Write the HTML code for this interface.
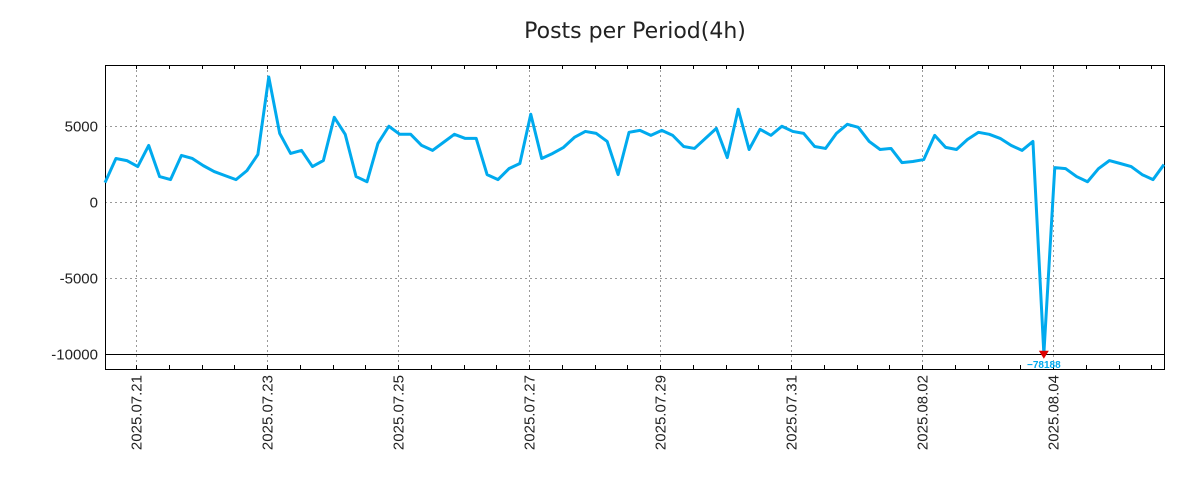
<!DOCTYPE html>
<html><head><meta charset="utf-8"><style>
body{margin:0;background:#fff;font-family:"Liberation Sans",sans-serif;}
svg{display:block}
</style></head><body>
<svg id="chart" width="1200" height="500" xmlns="http://www.w3.org/2000/svg">
<text x="635" y="38" text-anchor="middle" font-size="22" fill="#222" font-family="DejaVu Sans, Liberation Sans, sans-serif">Posts per Period(4h)</text>
<g id="grid"></g><g id="axes"></g><g id="series"></g>
</svg>
<script>
const values=[1260,2850,2710,2320,3710,1660,1460,3050,2850,2380,1990,1720,1460,2050,3110,8210,4500,3180,3380,2320,2710,5560,4440,1660,1320,3840,4970,4440,4440,3710,3380,3910,4440,4170,4170,1790,1460,2180,2520,5760,2850,3180,3580,4240,4630,4500,3970,1790,4570,4700,4370,4700,4370,3640,3510,4170,4830,2910,6090,3440,4770,4370,4970,4630,4500,3640,3510,4500,5100,4900,3970,3440,3510,2580,2650,2780,4370,3580,3440,4100,4570,4440,4170,3710,3380,3970,-78188,2250,2180,1660,1320,2180,2710,2520,2320,1790,1460,2450];
const yTicks=[5000,0,-5000,-10000];
const yTickLabels=["5000","0","-5000","-10000"];
const xTickLabels=["2025.07.21","2025.07.23","2025.07.25","2025.07.27","2025.07.29","2025.07.31","2025.08.02","2025.08.04"];
const xTickDays=[0,2,4,6,8,10,12,14];
const startDay=-0.473, periodDays=1/6;
const L=105,R=1165,T=65,B=369,yMin=-11000,yMax=9000,dayPx=65.5,dayOrigin=136;
const NS="http://www.w3.org/2000/svg";
const xs=d=>dayOrigin+d*dayPx;
const ys=v=>B-(v-yMin)/(yMax-yMin)*(B-T);
function mk(tag,attrs,parent){const e=document.createElementNS(NS,tag);for(const k in attrs)e.setAttribute(k,attrs[k]);parent.appendChild(e);return e;}
const grid=document.getElementById('grid'),axes=document.getElementById('axes'),series=document.getElementById('series');
yTicks.forEach((v,i)=>{
 const y=Math.round(ys(v))+0.5;
 const gl=mk('line',{x1:L,x2:R,y1:y,y2:y,stroke:v===-10000?'#000':'#999','stroke-dasharray':v===-10000?'':'2,3','stroke-width':1},grid);
 
 
 const t=mk('text',{x:98,y:y+5,'text-anchor':'end','font-size':15,fill:'#222'},axes);
 t.textContent=yTickLabels[i];
 
 
 mk('line',{x1:R-5,x2:R,y1:y,y2:y,stroke:'#000'},axes);
});
xTickDays.forEach((d,i)=>{
 const x=Math.round(xs(d))+0.5;
 const gl=mk('line',{x1:x,x2:x,y1:T,y2:B,stroke:'#999','stroke-dasharray':'2,3'},grid);
 
 
 const t=mk('text',{x:0,y:0,'text-anchor':'end','font-size':15,fill:'#222',transform:`translate(${x+5},375) rotate(-90)`},axes);
 t.textContent=xTickLabels[i];
 
 
});
for(let d=-0.5;d<=16;d+=0.5){const x=Math.round(xs(d))+0.5;if(x<L||x>R)continue;
 mk('line',{x1:x,x2:x,y1:T,y2:T+4,stroke:'#000'},axes);mk('line',{x1:x,x2:x,y1:B,y2:B-4,stroke:'#000'},axes);}
const frame=mk('rect',{x:L+0.5,y:T+0.5,width:R-L-1,height:B-T,fill:'none',stroke:'#000'},axes);


const clampMin=-10000;
const pts=values.map((v,i)=>[xs(startDay+i*periodDays),ys(Math.max(v,clampMin))]);
const line=mk('polyline',{points:pts.map(p=>p.join(',')).join(' '),fill:'none',stroke:'#00aaee','stroke-width':3,'stroke-linejoin':'round'},series);


let mi=0;values.forEach((v,i)=>{if(v<values[mi])mi=i;});
const [mx,my]=pts[mi];
const mark=mk('polygon',{points:`${mx-5},${my-3} ${mx+5},${my-3} ${mx},${my+5}`,fill:'#dd0000'},series);


const ml=mk('text',{x:mx,y:my+14,'text-anchor':'middle','font-size':10,'font-weight':'bold',fill:'#00aaee'},series);
ml.textContent='\u2212'+Math.abs(values[mi]);


</script>
</body></html>
